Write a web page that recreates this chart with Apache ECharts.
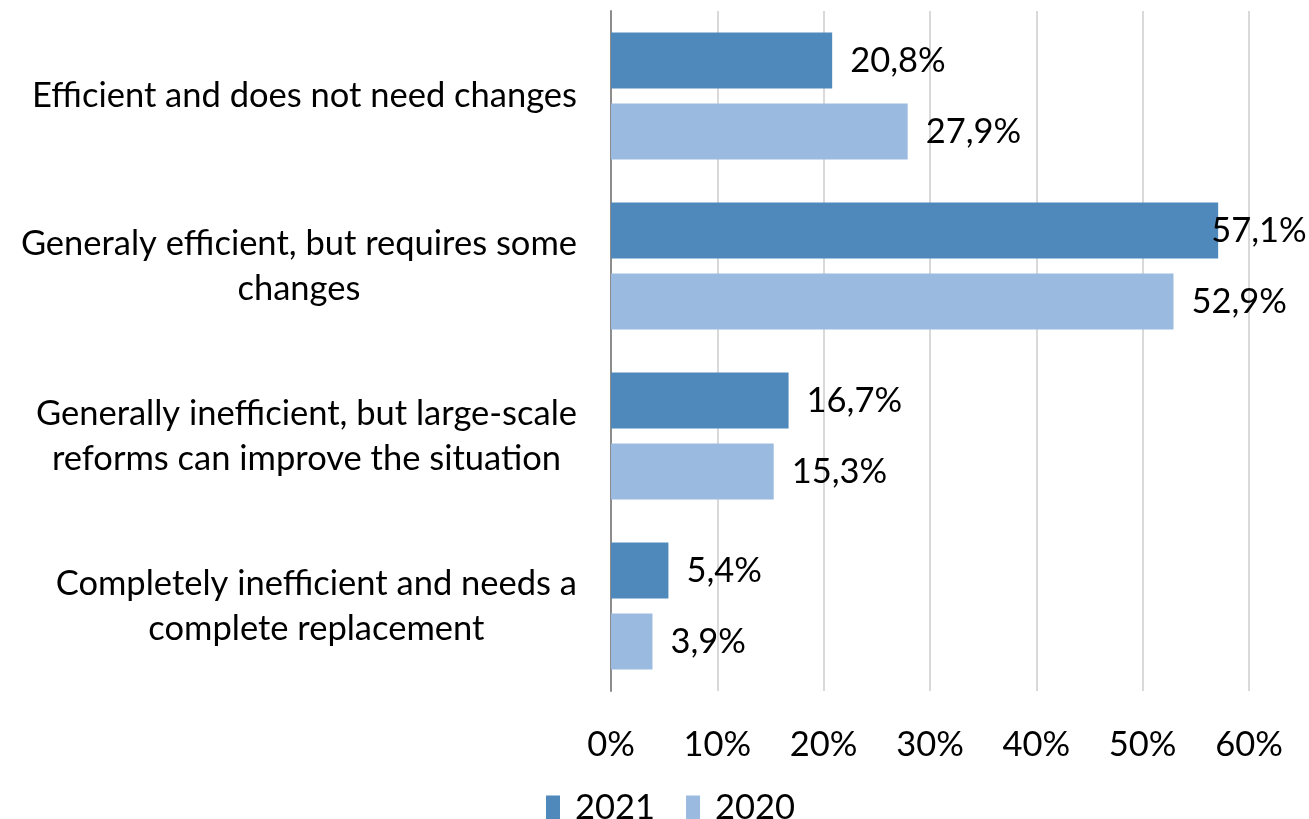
<!DOCTYPE html>
<html>
<head>
<meta charset="utf-8">
<style>
  html, body { margin: 0; padding: 0; background: #ffffff; }
  #chart { width: 1309px; height: 819px; }
</style>
<script src="https://cdn.jsdelivr.net/npm/echarts@6/dist/echarts.min.js"></script>
</head>
<body>
<div id="chart"></div>
<script>
// Survey answers, top to bottom
const categories = [
  'Efficient and does not need changes',
  'Generaly efficient, but requires some\nchanges',
  'Generally inefficient, but large-scale\nreforms can improve the situation',
  'Completely inefficient and needs a\ncomplete replacement'
];
const seriesNames = ['2021', '2020'];
const values2021 = [20.8, 57.1, 16.7, 5.4];
const values2020 = [27.9, 52.9, 15.3, 3.9];
const tickMax = 60;
const tickStep = 10;

const FONT = 'Lato, "Open Sans", sans-serif';
const FONT_SIZE = 34.5;
const TEXT = '#000000';

// Value labels use a decimal comma, e.g. "20,8%"
const fmt = v => v.toFixed(1).replace('.', ',') + '%';

// Labels that would run past the right edge sit over the bar end instead
function withLabels(vals) {
  return vals.map(v => v > tickMax - 5
    ? { value: v, label: { distance: -7 } }
    : v);
}

const chart = echarts.init(document.getElementById('chart'), null, { renderer: 'canvas' });

chart.setOption({
  animation: false,
  backgroundColor: '#ffffff',
  textStyle: { fontFamily: FONT },
  grid: { left: 611, right: 60, top: 11, bottom: 128, containLabel: false },
  legend: {
    data: seriesNames,
    left: 541,
    top: 785,
    icon: 'rect',
    itemWidth: 14,
    itemHeight: 24,
    itemGap: 31,
    textStyle: { fontFamily: FONT, fontSize: FONT_SIZE, color: TEXT, padding: [0, 0, 0, 10] }
  },
  xAxis: {
    type: 'value',
    min: 0,
    max: tickMax,
    interval: tickStep,
    axisLine: { show: false },
    axisTick: { show: false },
    splitLine: { show: true, lineStyle: { color: '#d9d9d9', width: 2 } },
    axisLabel: {
      formatter: v => v + '%',
      fontFamily: FONT,
      fontSize: FONT_SIZE,
      color: TEXT,
      margin: 36
    }
  },
  yAxis: {
    type: 'category',
    data: categories,
    inverse: true,
    axisLine: { show: true, lineStyle: { color: '#8c8c8c', width: 2 } },
    axisTick: { show: false },
    splitLine: { show: false },
    axisLabel: {
      margin: 34,
      align: 'right',
      // each line centred within the label block
      formatter: v => v.split('\n').map(l => '{c|' + l + '}').join('\n'),
      rich: {
        c: { align: 'center', fontFamily: FONT, fontSize: FONT_SIZE, lineHeight: 45, color: TEXT }
      }
    }
  },
  series: [
    {
      name: seriesNames[0],
      type: 'bar',
      data: withLabels(values2021),
      barWidth: 56,
      barGap: '27%',
      itemStyle: { color: '#4f89bc' },
      label: {
        show: true,
        position: 'right',
        distance: 18,
        formatter: p => fmt(p.value),
        fontFamily: FONT,
        fontSize: FONT_SIZE,
        color: TEXT
      }
    },
    {
      name: seriesNames[1],
      type: 'bar',
      data: withLabels(values2020),
      barWidth: 56,
      barGap: '27%',
      itemStyle: { color: '#9bbae0' },
      label: {
        show: true,
        position: 'right',
        distance: 18,
        formatter: p => fmt(p.value),
        fontFamily: FONT,
        fontSize: FONT_SIZE,
        color: TEXT
      }
    }
  ]
});
</script>
</body>
</html>
